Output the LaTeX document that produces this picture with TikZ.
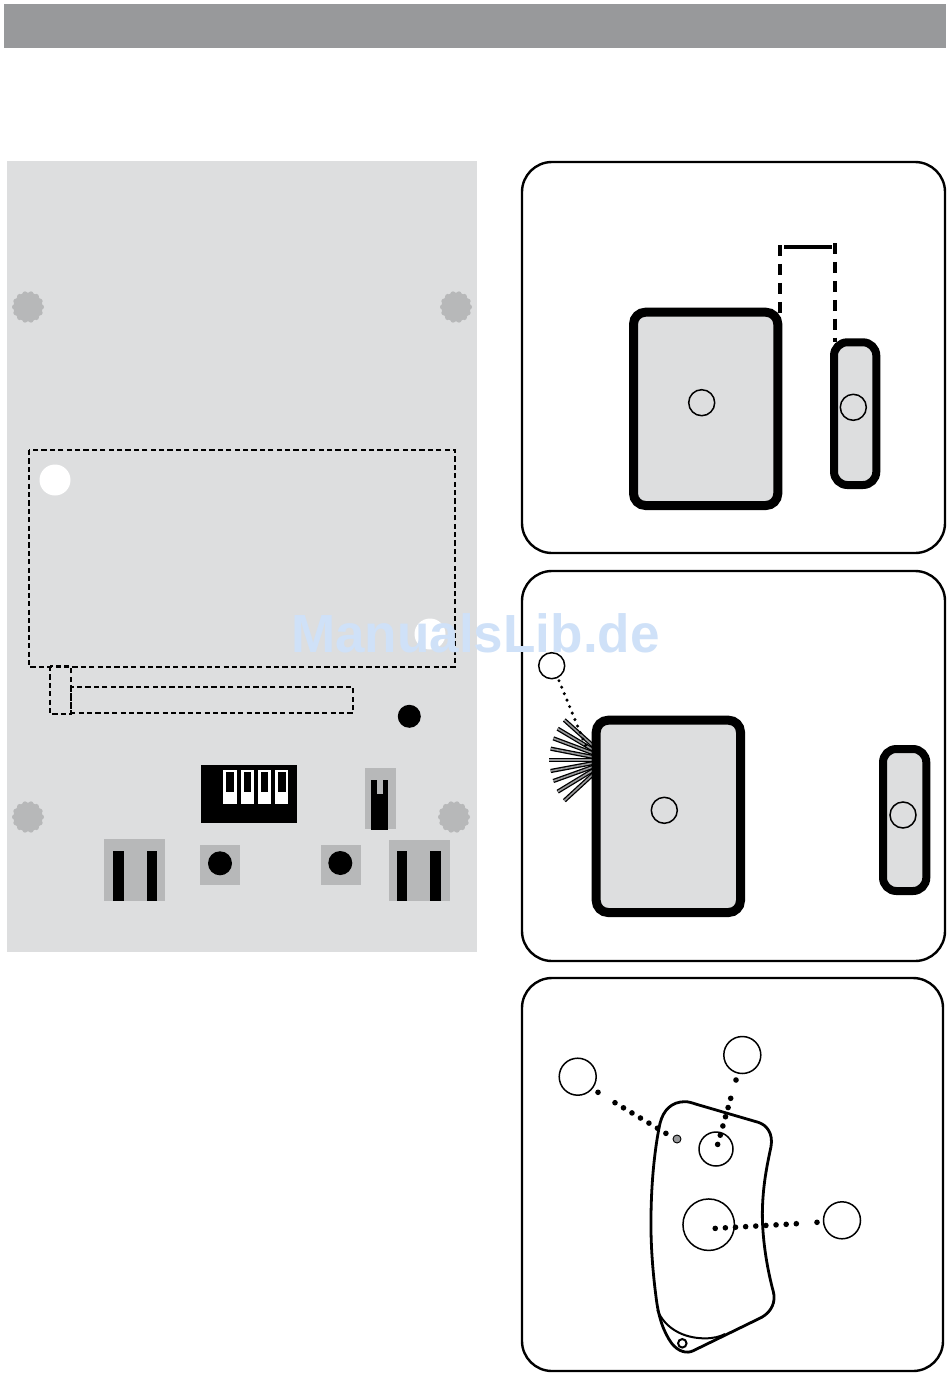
\documentclass[tikz,border=0pt]{standalone}
\usepackage{fontspec}
\setmainfont{Liberation Sans}
\definecolor{bargray}{HTML}{98999B}
\definecolor{plate}{HTML}{DDDEDF}
\definecolor{part}{HTML}{B7B8B9}
\definecolor{mark}{HTML}{CFE1F8}
\tikzset{
  px/.style={line width=#1*0.75pt},
  panelbox/.style={draw=black,px=2.4,rounded corners=22.5pt,fill=white},
  devbox/.style={draw=black,fill=plate,px=9,rounded corners=9pt},
  slimbox/.style={draw=black,fill=plate,px=8,rounded corners=10pt},
  ring/.style={circle,draw=black,px=1.5,inner sep=0pt,minimum size=#1*0.75pt,outer sep=0pt},
  hole/.style={circle,fill=white,inner sep=0pt,minimum size=31*0.75pt},
  solidblob/.style={circle,fill=black,inner sep=0pt,minimum size=#1*0.75pt},
  dashbox/.style={draw=black,px=2,dash pattern=on 3.9pt off 2.4pt},
  gapline/.style={draw=black,px=4.6,dash pattern=on 8.2pt off 6pt},
  dots/.style={draw=black,px=5.6,line cap=round,dash pattern=on 0pt off #1*0.75pt},
  ray/.style={draw=black,px=4.2},
  rayin/.style={draw=bargray,px=1.6}
}
\newcommand{\scallop}[2]{%
  \fill[part] (#1,#2) circle[radius=14.5];
  \foreach \a in {0,25.7,...,340}
    \fill[part] (#1,#2) ++(\a:13.4) circle[radius=2.6];
}
\newcommand{\fanray}[4]{%
  \draw[ray] (#1,#2) -- (#3,#4);
  \draw[rayin] (#1,#2) -- (#3,#4);
}
\begin{document}
\begin{tikzpicture}[x=0.75pt,y=-0.75pt]
\useasboundingbox (0,0) rectangle (950,1374);
% header
\node[fill=bargray,inner sep=0pt,minimum width=942*0.75pt,minimum height=44*0.75pt] (header) at (475,26) {};
% left plate
\node[fill=plate,inner sep=0pt,minimum width=470*0.75pt,minimum height=790.5*0.75pt] (plate) at (242,556.3) {};
\scallop{28}{307}
\scallop{456}{307}
\scallop{28}{817}
\scallop{454}{817}
\node[hole] (holeA) at (55,480) {};
\node[hole] (holeB) at (430,634) {};
\draw[dashbox] (29,450) rectangle (455,667);
\draw[dashbox] (50,666) rectangle (70.5,714);
\draw[dashbox] (71,687) rectangle (353,713);
\node[solidblob=23] (led) at (409.3,716.3) {};
% DIP switch
\fill[black] (201,765) rectangle (297,822.7);
\fill[white] (223,770) rectangle (237,803.7);
\fill[white] (241,770) rectangle (254,803.7);
\fill[white] (258,770) rectangle (271,803.7);
\fill[white] (275,770) rectangle (288,803.7);
\fill[black] (226,772) rectangle (234,791.7);
\fill[black] (243.7,772) rectangle (251.3,791.7);
\fill[black] (260.7,772) rectangle (268.3,791.7);
\fill[black] (277.7,772) rectangle (285.7,791.7);
% jumper
\fill[part] (365,767.7) rectangle (396,829);
\fill[black] (371,780) rectangle (388,830);
\fill[part] (377,780) rectangle (383,793.7);
% terminals
\fill[part] (104,839) rectangle (165,901);
\fill[black] (113,850.7) rectangle (124,901);
\fill[black] (147,850.7) rectangle (157,901);
\fill[part] (389,840) rectangle (450,901);
\fill[black] (397,850.7) rectangle (407,901);
\fill[black] (430,850.7) rectangle (441,901);
% buttons
\fill[part] (200,845) rectangle (240,885);
\node[solidblob=24] (btnA) at (220,863.3) {};
\fill[part] (321,845) rectangle (361,885);
\node[solidblob=24] (btnB) at (340.3,863) {};
% panels
\draw[panelbox] (522,162) rectangle (945,553);
\draw[panelbox] (522,571) rectangle (945,961);
\draw[panelbox] (522,978) rectangle (943,1371);
% panel 1
\draw[gapline] (780,245) -- (780,314);
\draw[gapline] (835,243) -- (835,342);
\draw[black,px=4.4] (784.3,246.7) -- (832.3,246.7);
\draw[devbox] (633.5,312.2) rectangle (777.8,505.5);
\draw[slimbox] (834,342.3) rectangle (876.3,485);
\node[ring=26] (c1) at (701.7,402.7) {};
\node[ring=26] (c2) at (853.3,407.3) {};
% panel 2
\begin{scope}[shift={(530,640)},x=0.25pt,y=-0.25pt]
\fanray{103}{240}{190}{318}
\fanray{83}{266}{190}{330}
\fanray{70}{295}{190}{340}
\fanray{62}{326}{190}{351}
\fanray{58}{360}{190}{360}
\fanray{62}{393}{190}{369}
\fanray{70}{423}{190}{380}
\fanray{83}{455}{190}{390}
\fanray{103}{482}{190}{402}
\end{scope}
\draw[devbox] (596.2,720.2) rectangle (740.5,912.5);
\draw[slimbox] (883,749) rectangle (926.3,891);
\node[ring=26] (c3) at (664.3,810.3) {};
\node[ring=26] (c4) at (903,815) {};
\node[ring=26] (c5) at (551.7,665.7) {};
\coordinate (d2a) at (559,680.7);
\coordinate (d2b) at (587,749);
\draw[dots=7,px=3.4] (d2a) -- (d2b);
% panel 3
\begin{scope}[shift={(550,1030)},x=0.25pt,y=-0.25pt]
\draw[black,px=2.8,fill=white] (405,215) .. controls (415,215) and (425,218) .. (440,223) -- (625,277) .. controls (650,285) and (670,310) .. (663,350) .. controls (650,410) and (638,470) .. (637,550) .. controls (637,640) and (655,730) .. (670,785) .. controls (678,815) and (665,845) .. (635,862) -- (430,962) .. controls (410,972) and (385,965) .. (365,940) .. controls (340,905) and (325,860) .. (318,800) .. controls (305,700) and (302,620) .. (303,560) .. controls (304,450) and (315,350) .. (330,280) .. controls (340,240) and (365,215) .. (405,215) -- cycle;
\draw[black,px=2] (322,840) .. controls (345,895) and (400,925) .. (465,925) .. controls (490,925) and (510,920) .. (525,912);
\end{scope}
\node[circle,draw=black,px=2,fill=white,inner sep=0pt,minimum size=8.5*0.75pt] (screw) at (682.3,1343.3) {};
\node[circle,draw=black,px=0.9,fill=bargray,inner sep=0pt,minimum size=8*0.75pt] (lens) at (677,1139) {};
\node[ring=34] (c6) at (716,1149) {};
\node[ring=51.5] (c7) at (708.7,1224.7) {};
\node[ring=37] (c8) at (577.7,1076.7) {};
\node[ring=37] (c9) at (742.3,1055) {};
\node[ring=37] (c10) at (842,1220.3) {};
\coordinate (e1) at (615,1102.7);
\coordinate (e2) at (666.2,1133.5);
\coordinate (f1) at (730.7,1098.3);
\coordinate (f2) at (717.6,1144.6);
\coordinate (g1) at (796.3,1223.7);
\coordinate (g2) at (714.8,1228.4);
\draw[dots=9.9] (e1) -- (e2);
\draw[dots=9.58] (f1) -- (f2);
\draw[dots=10.15] (g1) -- (g2);
\fill[black] (598,1092.3) circle[radius=2.8];
\fill[black] (736,1080) circle[radius=2.8];
\fill[black] (817,1222.3) circle[radius=2.8];
% watermark
\node[anchor=base west,inner sep=0pt,text=mark,xscale=0.987,font=\fontsize{40.3pt}{48pt}\selectfont\bfseries] (wm) at (291,652.5) {ManualsLib.de};
\end{tikzpicture}
\end{document}
